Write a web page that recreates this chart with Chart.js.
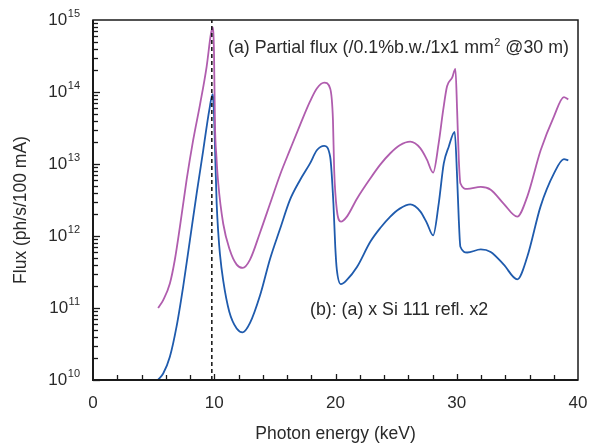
<!DOCTYPE html>
<html>
<head>
<meta charset="utf-8">
<script src="https://cdn.jsdelivr.net/npm/chart.js@4/dist/chart.umd.min.js"></script>
<style>
  html, body { margin: 0; padding: 0; background: #ffffff; }
  #wrap { width: 594px; height: 448px; }
</style>
</head>
<body>
<div id="wrap"><canvas id="c" width="594" height="448"></canvas></div>
<script>
// (a) partial flux through the 1x1 mm2 slit, ph/s/100 mA
const partialEnergy = [5.37, 5.79, 6.34, 6.75, 7.17, 7.72, 8.26, 8.84, 9.37, 9.73, 9.87, 9.98, 10.06, 10.18, 10.33, 10.74, 11.27, 11.85, 12.35, 12.95, 13.78, 14.6, 15.43, 16.25, 17.08, 17.9, 18.46, 19.07, 19.56, 19.79, 19.89, 20.11, 20.45, 20.94, 21.77, 22.87, 23.69, 24.52, 25.3, 26.17, 26.99, 27.54, 28.05, 28.51, 28.88, 29.2, 29.62, 29.89, 30.03, 30.17, 30.3, 30.86, 31.98, 32.8, 33.88, 34.99, 35.81, 36.92, 38.02, 38.84, 39.2];
const partialFlux = [1.0e11, 1.29e11, 2.19e11, 4.68e11, 1.35e12, 6.0e12, 2.14e13, 6.9e13, 2.24e14, 6.5e14, 7.9e14, 3.5e14, 3.5e13, 1.26e13, 5.4e12, 1.48e12, 6.5e11, 4.0e11, 3.6e11, 4.7e11, 1.12e12, 2.8e12, 7.1e12, 1.58e13, 3.5e13, 7.4e13, 1.12e14, 1.35e14, 1.12e14, 4.1e13, 8.3e12, 2.3e12, 1.58e12, 1.86e12, 3.3e12, 6.3e12, 9.8e12, 1.41e13, 1.82e13, 2.04e13, 1.66e13, 1.15e13, 7.6e12, 1.95e13, 5.6e13, 1.2e14, 1.58e14, 2.1e14, 5.6e13, 1.15e13, 5.4e12, 4.5e12, 4.8e12, 4.4e12, 2.8e12, 1.86e12, 3.5e12, 1.55e13, 4.6e13, 8.5e13, 7.9e13];

// (b) after two Si 111 reflections
const siEnergy = [5.35, 5.79, 6.34, 6.89, 7.44, 7.99, 8.55, 9.09, 9.59, 9.87, 9.92, 10.0, 10.1, 10.2, 10.33, 10.47, 10.74, 11.24, 11.85, 12.35, 12.95, 13.78, 14.6, 15.43, 16.25, 17.08, 17.9, 18.46, 19.07, 19.56, 19.83, 19.98, 20.11, 20.45, 20.94, 21.77, 22.87, 23.69, 24.52, 25.3, 26.17, 26.99, 27.54, 28.05, 28.51, 28.93, 29.34, 29.83, 30.03, 30.17, 30.3, 30.86, 31.98, 32.8, 33.88, 34.99, 35.81, 36.92, 38.02, 38.84, 39.2];
const siFlux = [1.0e10, 1.23e10, 2.1e10, 5.5e10, 2.0e11, 8.7e11, 3.9e12, 1.55e13, 5.6e13, 9.3e13, 7.8e13, 4.0e13, 1.0e13, 2.8e12, 1.12e12, 5.6e11, 2.4e11, 8.9e10, 5.2e10, 4.6e10, 6.2e10, 1.5e11, 4.8e11, 1.26e12, 3.2e12, 6.0e12, 1.02e13, 1.55e13, 1.78e13, 1.26e13, 2.8e12, 7.1e11, 3.4e11, 2.14e11, 2.45e11, 3.7e11, 8.3e11, 1.29e12, 1.86e12, 2.4e12, 2.75e12, 2.2e12, 1.51e12, 1.02e12, 2.8e12, 1.02e13, 1.74e13, 2.8e13, 6.6e12, 1.66e12, 7.1e11, 5.9e11, 6.5e11, 6.0e11, 4.0e11, 2.5e11, 5.1e11, 2.6e12, 7.4e12, 1.17e13, 1.12e13];

// marker energy (dashed vertical line)
const edgeEnergy = 9.8;

// axis ranges and tick values
const xRange = [0, 40];
const xMajorStep = 10;
const xMinorStep = 2;
const yDecades = [10, 11, 12, 13, 14, 15];

const FONT = "'Liberation Sans', Arial, Helvetica, sans-serif";
const TEXT = '#2a2a2a';

const toPoints = (xs, ys) => xs.map((x, i) => ({ x: x, y: ys[i] }));

// frame, inward tick marks, tick labels and text annotations
const decorations = {
  id: 'decorations',
  afterDraw(chart) {
    const ctx = chart.ctx;
    const xs = chart.scales.x, ys = chart.scales.y;
    const a = chart.chartArea;
    ctx.save();

    // box
    ctx.strokeStyle = '#1a1a1a';
    ctx.lineWidth = 1.5;
    ctx.strokeRect(a.left, a.top, a.right - a.left, a.bottom - a.top);
    ctx.lineWidth = 2;
    ctx.beginPath();
    ctx.moveTo(a.left, a.top); ctx.lineTo(a.left, a.bottom); ctx.lineTo(a.right, a.bottom);
    ctx.stroke();

    // x ticks (inward)
    ctx.lineWidth = 1.3;
    for (let v = xRange[0] + xMinorStep; v < xRange[1]; v += xMinorStep) {
      const px = Math.round(xs.getPixelForValue(v)) + 0.5;
      const len = (v % xMajorStep === 0) ? 6 : 5;
      ctx.beginPath(); ctx.moveTo(px, a.bottom); ctx.lineTo(px, a.bottom - len); ctx.stroke();
    }

    // y ticks (inward), majors at decades, minors at 2..9
    for (let d = yDecades[0]; d < yDecades[yDecades.length - 1]; d++) {
      for (let m = 1; m <= 9; m++) {
        const py = Math.round(ys.getPixelForValue(m * Math.pow(10, d))) + 0.5;
        const len = m === 1 ? 7 : 5;
        ctx.beginPath(); ctx.moveTo(a.left, py); ctx.lineTo(a.left + len, py); ctx.stroke();
      }
    }

    ctx.fillStyle = TEXT;

    // x labels
    ctx.font = '17px ' + FONT;
    ctx.textAlign = 'center';
    ctx.textBaseline = 'middle';
    for (let v = xRange[0]; v <= xRange[1]; v += xMajorStep) {
      ctx.fillText(String(v), xs.getPixelForValue(v), a.bottom + 23);
    }

    // y labels as 10^n
    yDecades.forEach(d => {
      const py = ys.getPixelForValue(Math.pow(10, d));
      ctx.font = '11px ' + FONT;
      const exp = String(d);
      const ew = ctx.measureText(exp).width;
      ctx.textAlign = 'left';
      ctx.fillText(exp, 80 - ew, py - 6);
      ctx.font = '17px ' + FONT;
      ctx.textAlign = 'right';
      ctx.fillText('10', 80 - ew - 0.5, py);
    });

    // y title
    ctx.save();
    ctx.translate(21, (a.top + a.bottom) / 2 + 10);
    ctx.rotate(-Math.PI / 2);
    ctx.font = '17.5px ' + FONT;
    ctx.textAlign = 'center';
    ctx.textBaseline = 'middle';
    ctx.fillText('Flux (ph/s/100 mA)', 0, 0);
    ctx.restore();

    // annotations
    ctx.textAlign = 'left';
    ctx.textBaseline = 'alphabetic';
    ctx.font = '17.8px ' + FONT;
    let x0 = 228;
    const base = 52.5;
    const partA = '(a) Partial flux (/0.1%b.w./1x1 mm';
    ctx.fillText(partA, x0, base);
    x0 += ctx.measureText(partA).width + 0.5;
    ctx.font = '11px ' + FONT;
    ctx.fillText('2', x0, base - 7);
    x0 += ctx.measureText('2').width;
    ctx.font = '17.8px ' + FONT;
    ctx.fillText(' @30 m)', x0, base);

    ctx.fillText('(b): (a) x Si 111 refl. x2', 310, 315);
    ctx.restore();
  }
};

new Chart(document.getElementById('c').getContext('2d'), {
  type: 'line',
  data: {
    datasets: [
      {
        label: 'edge',
        data: [{ x: edgeEnergy, y: Math.pow(10, yDecades[0]) }, { x: edgeEnergy, y: Math.pow(10, yDecades[yDecades.length - 1]) }],
        borderColor: '#111111', borderWidth: 1.5, borderDash: [4, 3], pointRadius: 0
      },
      {
        label: '(a) Partial flux',
        data: toPoints(partialEnergy, partialFlux),
        borderColor: '#b05dae', borderWidth: 1.8, pointRadius: 0,
        cubicInterpolationMode: 'monotone', fill: false
      },
      {
        label: '(b) Si 111 x2',
        data: toPoints(siEnergy, siFlux),
        borderColor: '#1f5bad', borderWidth: 1.8, pointRadius: 0,
        cubicInterpolationMode: 'monotone', fill: false
      }
    ]
  },
  options: {
    responsive: false,
    animation: false,
    devicePixelRatio: 1,
    layout: { padding: { top: 20, right: 16, left: 0, bottom: 0 } },
    plugins: { legend: { display: false }, tooltip: { enabled: false } },
    scales: {
      x: {
        type: 'linear', min: xRange[0], max: xRange[1],
        afterFit(s) { s.height = 68; },
        grid: { display: false, drawTicks: false },
        border: { display: false },
        ticks: { display: false, stepSize: xMajorStep },
        title: { display: true, text: 'Photon energy (keV)', color: TEXT, font: { family: FONT, size: 17.5 }, padding: { top: 0, bottom: 3 } }
      },
      y: {
        type: 'logarithmic', min: Math.pow(10, yDecades[0]), max: Math.pow(10, yDecades[yDecades.length - 1]),
        afterFit(s) { s.width = 93; },
        grid: { display: false, drawTicks: false },
        border: { display: false },
        ticks: { display: false }
      }
    }
  },
  plugins: [decorations]
});
</script>
</body>
</html>
